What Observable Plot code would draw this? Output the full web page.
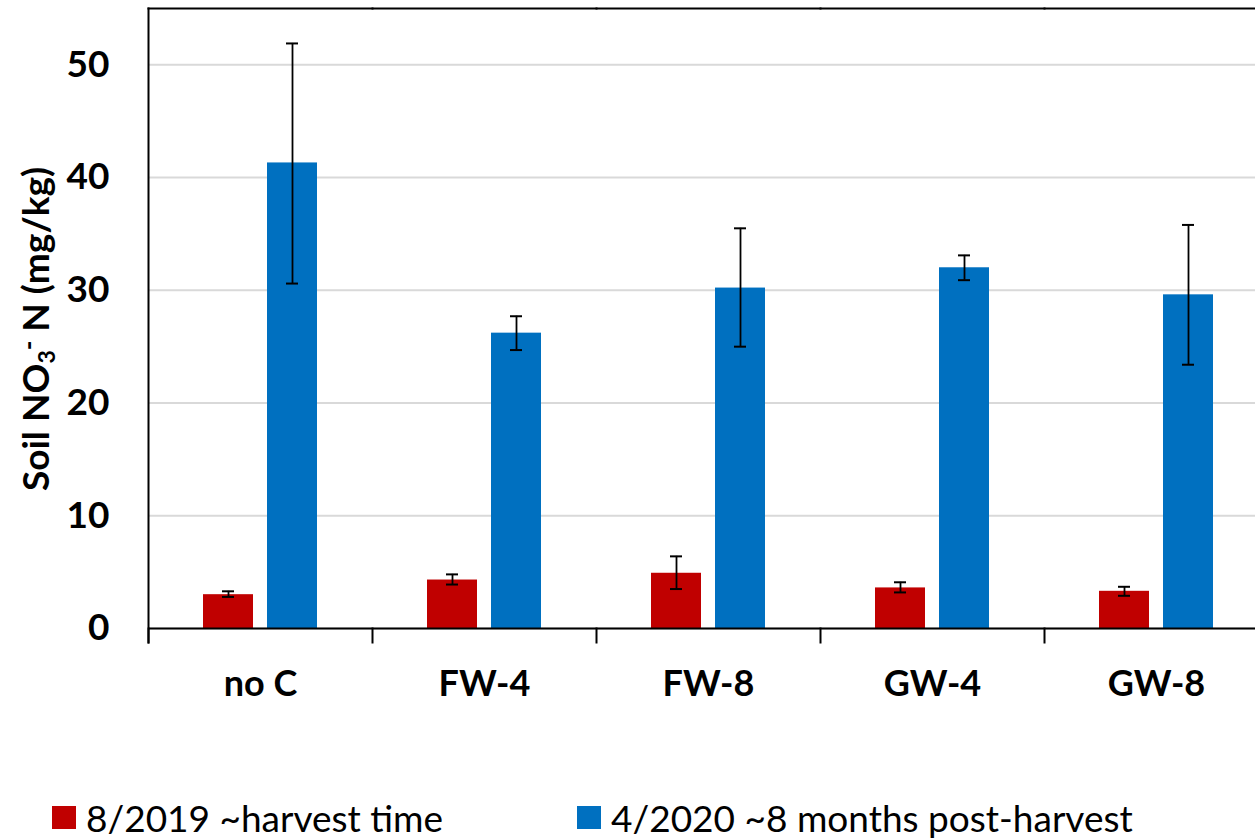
<!DOCTYPE html>
<html><head><meta charset="utf-8">
<script src="https://cdn.jsdelivr.net/npm/d3@7"></script>
<script src="https://cdn.jsdelivr.net/npm/@observablehq/plot@0.6"></script>
<style>
html,body{margin:0;padding:0;background:#fff;overflow:hidden;width:1255px;height:839px;}
#wrap{position:relative;width:1255px;height:839px;overflow:hidden;}
#chart{position:absolute;left:0;top:0;width:1269px;}
#chart svg{max-width:none !important;}
#ylabel{position:absolute;left:36px;top:329px;transform:translate(-50%,-50%) rotate(-90deg);white-space:nowrap;font-family:Lato,sans-serif;font-weight:bold;font-size:37px;color:#000;}
#ylabel sub{font-size:0.62em;vertical-align:-0.25em;}
#ylabel sup{font-size:0.7em;vertical-align:0.45em;}
.leg{position:absolute;top:799px;height:36px;display:flex;align-items:center;font-family:Lato,sans-serif;font-size:37px;line-height:1;color:#000;white-space:nowrap;}
.leg span.t{line-height:1;display:inline-block;}
.sw{width:24px;height:23px;margin-right:10px;display:inline-block;}
</style>
</head><body>
<div id="wrap">
  <div id="chart"></div>
  <div id="ylabel">Soil NO<sub>3</sub><sup>-</sup> N (mg/kg)</div>
  <div id="legend"></div>
</div>
<script>
const categories = ["no C", "FW-4", "FW-8", "GW-4", "GW-8"];
const seriesNames = ["8/2019 ~harvest time", "4/2020 ~8 months post-harvest"];
const seriesColors = ["#C00000", "#0070C0"];
const harvest = [3.0, 4.3, 4.9, 3.6, 3.3];
const harvestLo = [2.8, 3.9, 3.5, 3.2, 2.9];
const harvestHi = [3.3, 4.8, 6.4, 4.1, 3.7];
const postHarvest = [41.3, 26.2, 30.2, 32.0, 29.6];
const postLo = [30.6, 24.7, 25.0, 30.9, 23.4];
const postHi = [51.9, 27.7, 35.5, 33.1, 35.8];
const yTicks = [0, 10, 20, 30, 40, 50];

const rows = [];
categories.forEach((c, i) => {
  rows.push({cat: c, series: seriesNames[0], value: harvest[i], lo: harvestLo[i], hi: harvestHi[i]});
  rows.push({cat: c, series: seriesNames[1], value: postHarvest[i], lo: postLo[i], hi: postHi[i]});
});

const font = "Lato, sans-serif";
const chart = Plot.plot({
  width: 1269, height: 728,
  marginLeft: 146, marginRight: 0, marginTop: 8, marginBottom: 100,
  style: {fontFamily: font, background: "#fff", overflow: "visible", maxWidth: "none"},
  fx: {domain: categories, padding: 0, label: null, axis: null},
  x: {domain: seriesNames, paddingInner: 0.22, paddingOuter: 0.86, axis: null},
  y: {domain: [0, 55], axis: null},
  color: {domain: seriesNames, range: seriesColors},
  marks: [
    Plot.gridY(yTicks, {stroke: "#d9d9d9", strokeOpacity: 1, strokeWidth: 2}),
    Plot.barY(rows, {fx: "cat", x: "series", y: "value", fill: "series"}),
    Plot.ruleX(rows, {fx: "cat", x: "series", y1: "lo", y2: "hi", stroke: "#000", strokeWidth: 1.8}),
    Plot.tickY(rows, {fx: "cat", x: "series", y: "lo", stroke: "#000", strokeWidth: 2, insetLeft: 19, insetRight: 19}),
    Plot.tickY(rows, {fx: "cat", x: "series", y: "hi", stroke: "#000", strokeWidth: 2, insetLeft: 19, insetRight: 19}),
    Plot.axisY(yTicks, {anchor: "left", tickSize: 0, tickPadding: 39, fontSize: 37, fontWeight: "bold", fontFamily: font, fill: "#000", label: null}),
    Plot.axisFx({anchor: "bottom", tickSize: 0, tickPadding: 42, fontSize: 36, fontWeight: "bold", fontFamily: font, fill: "#000", label: null}),
    Plot.ruleY([0], {stroke: "#000", strokeWidth: 2}),
    Plot.frame({anchor: "top", stroke: "#000", strokeWidth: 2}),
    Plot.frame({anchor: "left", stroke: "#000", strokeWidth: 2, insetTop: 620, insetBottom: -14}),
    Plot.frame({anchor: "left", facetAnchor: "left", stroke: "#000", strokeWidth: 2, insetBottom: -14})
  ]
});
document.getElementById("chart").appendChild(chart);

const legend = document.getElementById("legend");
const legLeft = [52, 577];
seriesNames.forEach((s, i) => {
  const d = document.createElement("div");
  d.className = "leg";
  d.style.left = legLeft[i] + "px";
  const sw = document.createElement("span");
  sw.className = "sw";
  sw.style.background = seriesColors[i];
  d.appendChild(sw);
  const t = document.createElement("span");
  t.className = "t";
  t.textContent = s;
  d.appendChild(t);
  legend.appendChild(d);
});
</script>
</body></html>
